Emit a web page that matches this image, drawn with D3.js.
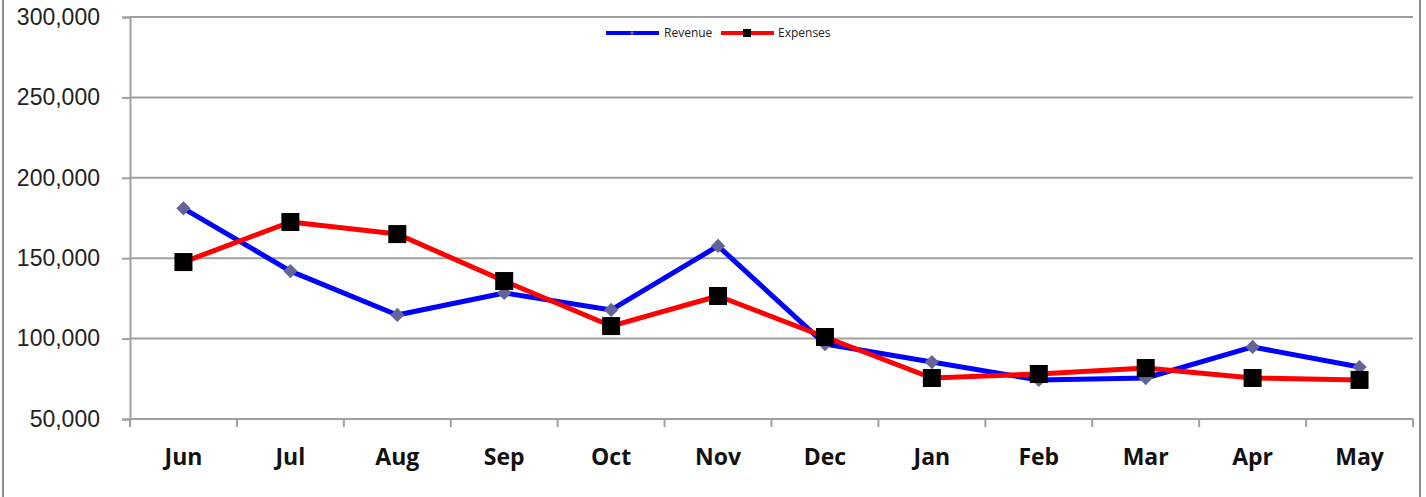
<!DOCTYPE html>
<html>
<head>
<meta charset="utf-8">
<script src="https://cdn.jsdelivr.net/npm/d3@7"></script>
<style>
  body{margin:0;background:#fff;}
  svg{display:block;font-family:"Open Sans",sans-serif;}
</style>
</head>
<body>
<svg id="chart"></svg>
<script>
const months = ['Jun','Jul','Aug','Sep','Oct','Nov','Dec','Jan','Feb','Mar','Apr','May'];
const revenue = [181000,142000,114700,128400,117800,157600,96600,85400,74300,75500,94800,82300];
const expenses = [147600,172500,165000,135800,107800,126500,101000,75500,78000,81700,75500,74300];
const yTicks = [50000,100000,150000,200000,250000,300000];

const width = 1426, height = 497;
const margin = {top:17, right:13, bottom:78, left:130};
const svg = d3.select('#chart').attr('width',width).attr('height',height);

// outer chart frame
svg.append('rect').attr('x',3).attr('y',-5).attr('width',1417).attr('height',height+10)
  .attr('fill','none').attr('stroke','#8c8c8c').attr('stroke-width',2);

const x = d3.scaleBand().domain(months).range([margin.left, width-margin.right]);
const y = d3.scaleLinear().domain([50000,300000]).range([height-margin.bottom, margin.top]);

// gridlines
svg.append('g').selectAll('line').data(yTicks).enter().append('line')
  .attr('x1',margin.left).attr('x2',width-margin.right)
  .attr('y1',d=>y(d)).attr('y2',d=>y(d))
  .style('stroke','#a0a0a0').style('stroke-width',2);

// y axis
const yAxis = svg.append('g').attr('transform',`translate(${margin.left},0)`)
  .call(d3.axisLeft(y).tickValues(yTicks).tickFormat(d3.format(',')).tickSize(8).tickPadding(22));
yAxis.select('.domain').style('stroke','#a0a0a0').style('stroke-width',2);
yAxis.selectAll('.tick line').style('stroke','#a0a0a0').style('stroke-width',2);
yAxis.selectAll('text').style('font-size','23px').style('fill','#222');

// x axis with ticks on band edges
const xg = svg.append('g').attr('transform',`translate(0,${y(50000)})`);
xg.append('line').attr('x1',margin.left).attr('x2',width-margin.right)
  .style('stroke','#a0a0a0').style('stroke-width',2);
const edges = months.map(m=>x(m)).concat([x(months[months.length-1])+x.bandwidth()]);
xg.selectAll('line.tk').data(edges).enter().append('line').attr('class','tk')
  .attr('x1',d=>d).attr('x2',d=>d).attr('y1',0).attr('y2',8)
  .style('stroke','#a0a0a0').style('stroke-width',2);
xg.selectAll('text').data(months).enter().append('text')
  .attr('x',d=>x(d)+x.bandwidth()/2).attr('y',46)
  .attr('text-anchor','middle').style('font-size','23px').style('font-weight','bold').style('fill','#111')
  .text(d=>d);

const cx = d => x(d)+x.bandwidth()/2;
const line = d3.line().x(d=>cx(d.m)).y(d=>y(d.v));
const revData = months.map((m,i)=>({m, v:revenue[i]}));
const expData = months.map((m,i)=>({m, v:expenses[i]}));

svg.append('path').datum(revData).attr('d',line)
  .attr('fill','none').attr('stroke','#0000ff').attr('stroke-width',5).attr('stroke-linejoin','round');
svg.append('path').datum(expData).attr('d',line)
  .attr('fill','none').attr('stroke','#ff0000').attr('stroke-width',5).attr('stroke-linejoin','round');

const diamond = d3.symbol().type(d3.symbolDiamond2).size(130);
svg.append('g').selectAll('path').data(revData).enter().append('path')
  .attr('d',diamond).attr('transform',d=>`translate(${cx(d.m)},${y(d.v)})`)
  .attr('fill','#646496');
svg.append('g').selectAll('rect').data(expData).enter().append('rect')
  .attr('x',d=>cx(d.m)-9).attr('y',d=>y(d.v)-9).attr('width',18).attr('height',18)
  .attr('fill','#000');

// legend
const lg = svg.append('g').attr('transform','translate(606,33)');
lg.append('line').attr('x1',0).attr('x2',53).style('stroke','#0000ff').style('stroke-width',4);
lg.append('path').attr('d',d3.symbol().type(d3.symbolDiamond2).size(14)).attr('transform','translate(26,0)').attr('fill','#646496');
lg.append('text').attr('x',58).attr('y',4).style('font-size','12px').style('fill','#222').text('Revenue');
lg.append('line').attr('x1',115).attr('x2',168).style('stroke','#ff0000').style('stroke-width',4);
lg.append('rect').attr('x',137).attr('y',-4).attr('width',8).attr('height',8).attr('fill','#000');
lg.append('text').attr('x',172).attr('y',4).style('font-size','12px').style('fill','#222').text('Expenses');
</script>
</body>
</html>
